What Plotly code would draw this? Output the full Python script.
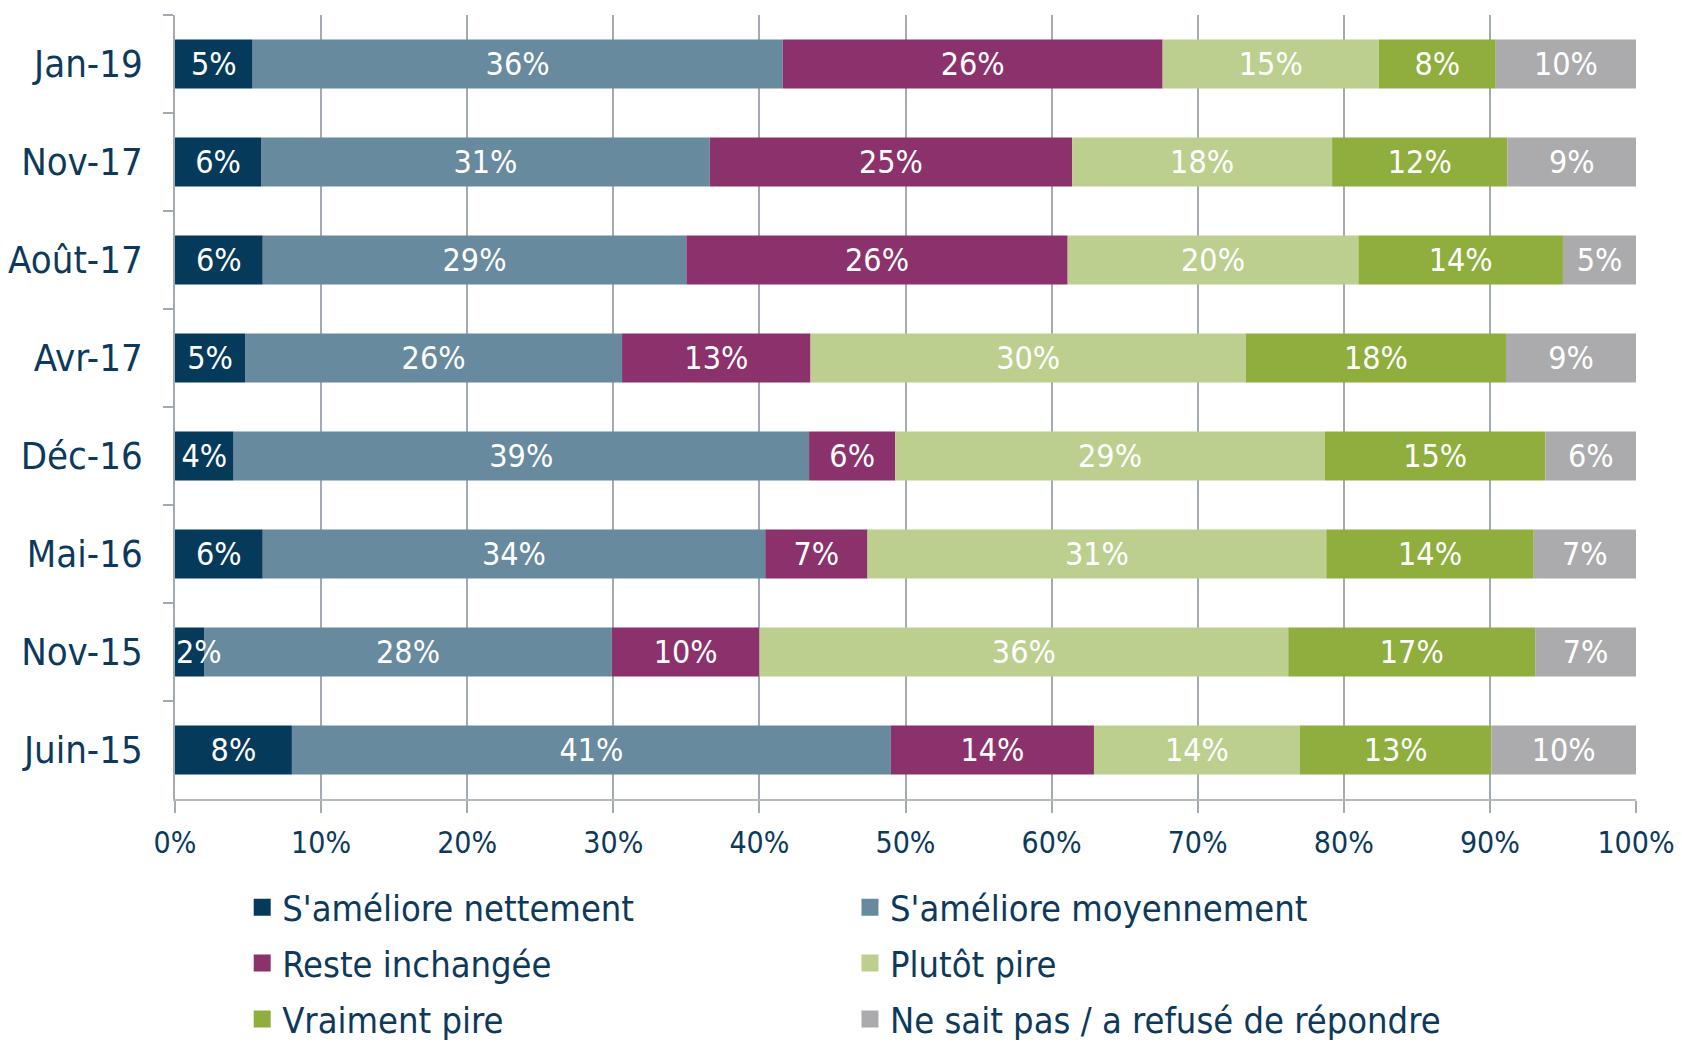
import plotly.graph_objects as go

categories = ["Jan-19", "Nov-17", "Août-17", "Avr-17", "Déc-16", "Mai-16", "Nov-15", "Juin-15"]

series_names = [
    "S'améliore nettement",
    "S'améliore moyennement",
    "Reste inchangée",
    "Plutôt pire",
    "Vraiment pire",
    "Ne sait pas / a refusé de répondre",
]

nettement    = [5.3, 5.9, 6.0, 4.8, 4.0, 6.0, 2.0, 8.0]
moyennement  = [36.3, 30.7, 29.0, 25.8, 39.4, 34.4, 27.9, 41.0]
inchangee    = [26.0, 24.8, 26.1, 12.9, 5.9, 7.0, 10.1, 13.9]
plutot_pire  = [14.8, 17.8, 19.9, 29.8, 29.4, 31.4, 36.2, 14.1]
vraiment     = [8.0, 12.0, 14.0, 17.8, 15.1, 14.2, 16.9, 13.1]
ne_sait_pas  = [9.6, 8.8, 5.0, 8.9, 6.2, 7.0, 6.9, 9.9]

labels_nettement   = ["5%", "6%", "6%", "5%", "4%", "6%", "2%", "8%"]
labels_moyennement = ["36%", "31%", "29%", "26%", "39%", "34%", "28%", "41%"]
labels_inchangee   = ["26%", "25%", "26%", "13%", "6%", "7%", "10%", "14%"]
labels_plutot      = ["15%", "18%", "20%", "30%", "29%", "31%", "36%", "14%"]
labels_vraiment    = ["8%", "12%", "14%", "18%", "15%", "14%", "17%", "13%"]
labels_nsp         = ["10%", "9%", "5%", "9%", "6%", "7%", "7%", "10%"]

tick_values = [0, 10, 20, 30, 40, 50, 60, 70, 80, 90, 100]
tick_labels = ["0%", "10%", "20%", "30%", "40%", "50%", "60%", "70%", "80%", "90%", "100%"]

colors = ["#053A5B", "#678A9E", "#8B316B", "#BCCF8F", "#8FAE3E", "#ABABAD"]
series_values = [nettement, moyennement, inchangee, plutot_pire, vraiment, ne_sait_pas]
series_labels = [labels_nettement, labels_moyennement, labels_inchangee,
                 labels_plutot, labels_vraiment, labels_nsp]
legend_ids = ["legend", "legend2", "legend", "legend2", "legend", "legend2"]

FONT = "DejaVu Sans Condensed, Liberation Sans Narrow, sans-serif"
NAVY = "#0D3A5C"
LABEL_FONT = dict(color="white", size=32, family=FONT)

# cumulative bases (stacking computed from the series)
bases = []
running = [0.0] * len(categories)
for vals in series_values:
    bases.append(list(running))
    running = [r + v for r, v in zip(running, vals)]

fig = go.Figure()
# draw the first series last so its thin-segment label stays visible over the next one
draw_order = [1, 2, 3, 4, 5, 0]
for i in draw_order:
    txt = [("\u2007" + t) if v < 3 else t for v, t in zip(series_values[i], series_labels[i])]
    fig.add_trace(go.Bar(
        y=categories, x=series_values[i], base=bases[i], name=series_names[i],
        orientation="h",
        marker=dict(color=colors[i], line=dict(width=0)),
        text=txt, textposition="inside", insidetextanchor="middle",
        textangle=0, textfont=LABEL_FONT,
        showlegend=False, legend=legend_ids[i], legendgroup=series_names[i],
        hoverinfo="skip",
    ))

# legend entries (larger swatches)
for i, name in enumerate(series_names):
    fig.add_trace(go.Bar(
        y=[None], x=[None], name=name, orientation="h",
        marker=dict(color=colors[i], line=dict(width=5, color=colors[i])),
        legend=legend_ids[i], legendgroup=name, showlegend=True, hoverinfo="skip",
    ))

legend_common = dict(
    orientation="v", traceorder="grouped", tracegroupgap=6,
    font=dict(size=36, color=NAVY, family=FONT),
    bgcolor="rgba(0,0,0,0)", xanchor="left", yanchor="top",
)

fig.update_layout(
    barmode="overlay", bargap=0.5,
    width=1682, height=1045,
    margin=dict(l=175, r=46, t=15, b=246, autoexpand=False),
    plot_bgcolor="white", paper_bgcolor="white",
    font=dict(family=FONT, color=NAVY),
    uniformtext=dict(mode="show", minsize=32),
    legend=dict(x=0.046, y=-0.1, **legend_common),
    legend2=dict(x=0.462, y=-0.1, **legend_common),
    xaxis=dict(
        range=[0, 100], tickvals=tick_values, ticktext=tick_labels,
        showgrid=True, gridcolor="#A3AAB2", gridwidth=1.5,
        showline=True, linecolor="#B3B9BF", linewidth=2,
        ticks="outside", ticklen=12, tickcolor="#A3AAB2", tickwidth=1.5,
        tickfont=dict(size=30, color=NAVY, family=FONT), ticklabelstandoff=4,
        ticklabeloverflow="allow",
        zeroline=False, fixedrange=True,
    ),
    yaxis=dict(
        autorange="reversed", type="category",
        showline=True, linecolor="#A3AAB2", linewidth=1.5,
        ticks="outside", tickson="boundaries", ticklen=10, tickcolor="#A3AAB2", tickwidth=1.5,
        tickfont=dict(size=38, color=NAVY, family=FONT),
        showgrid=False, ticklabelstandoff=23, fixedrange=True,
    ),
)

fig.write_html(
    "out.html",
    config={"displayModeBar": False},
    post_script="document.body.style.margin='0';document.body.style.overflow='hidden';",
)
